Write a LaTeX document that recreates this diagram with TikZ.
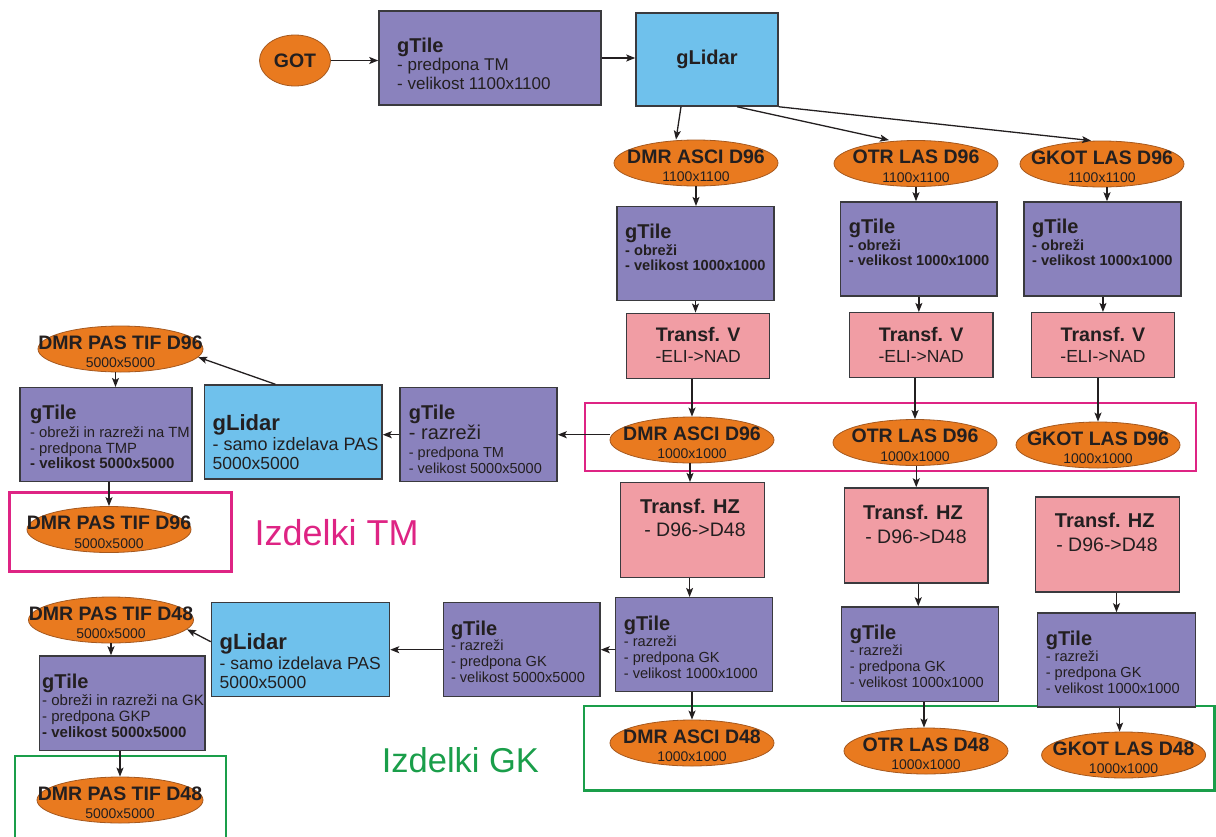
\documentclass[tikz,border=0pt]{standalone}
\usepackage{fontspec}
\setmainfont{Liberation Sans}
\usetikzlibrary{arrows.meta,fit,shapes.geometric}
\definecolor{txc}{HTML}{231F20}
\definecolor{pur}{RGB}{138,130,189}
\definecolor{blu}{RGB}{111,193,236}
\definecolor{pnk}{RGB}{241,157,164}
\definecolor{org}{RGB}{233,122,31}
\definecolor{orgd}{RGB}{165,88,30}
\definecolor{mag}{RGB}{222,36,132}
\definecolor{grn}{RGB}{26,158,74}
\definecolor{bd}{RGB}{58,58,62}
\newcommand\fs[1]{\fontsize{#1}{#1}\selectfont}
\newcommand\mkbox[6]{\node[#2,fit={(#3,#4)(#5,#6)}] (#1) {};}
\newcommand\mkov[6]{%
  \node[oval,minimum width=#4,minimum height=46] (#1) at (#2,#3) {};
  \node[tcen,font=\fs{19.5}\bfseries] (#1a) at (#2,#3) {#5};
  \node[tcen,font=\fs{14}] (#1b) at (#2,#3+18.5) {#6};}
\newcommand\tline[5]{\node[tl,font=#5] (#1) at (#2,#3) {#4};}
\newcommand\ctline[5]{\node[tcen,font=#5] (#1) at (#2,#3) {#4};}
\begin{document}
\begin{tikzpicture}[x=1pt,y=-1pt,
  pbox/.style={draw=bd,line width=1.5pt,fill=pur,inner sep=0pt},
  bbox/.style={draw=bd,line width=1.5pt,fill=blu,inner sep=0pt},
  kbox/.style={draw=bd,line width=1.5pt,fill=pnk,inner sep=0pt},
  oval/.style={ellipse,draw=orgd,line width=0.8pt,fill=org,inner sep=0pt},
  frame/.style={line width=2.8pt,inner sep=0pt},
  tl/.style={anchor=base west,inner sep=0pt,text=txc},
  tcen/.style={anchor=base,inner sep=0pt,text=txc},
  arr/.style={draw=txc,line width=1.3pt,-{Stealth[length=9pt,width=7pt,inset=2pt]}},
]
\useasboundingbox (0,0) rectangle (1216,836);
% frames
\node[frame,draw=mag,fit={(585,403)(1196,471)}] (fm1) {};
\node[frame,draw=mag,fit={(9.6,492.7)(231.5,571.7)}] (fm2) {};
\node[frame,draw=grn,fit={(584,706)(1214.5,790.7)}] (fg1) {};
\node[frame,draw=grn,fit={(15,756)(226,850)}] (fg2) {};
% top
\node[oval,minimum width=71,minimum height=51] (got) at (295,60.5) {};
\ctline{gott}{295}{67}{GOT}{\fs{19.5}\bfseries}
\mkbox{gt0}{pbox}{379}{11}{601}{105}
\tline{gt0a}{397}{52.3}{gTile}{\fs{20}\bfseries}
\tline{gt0b}{397}{70}{- predpona TM}{\fs{17}}
\tline{gt0c}{397}{89}{- velikost 1100x1100}{\fs{17}}
\mkbox{gl0}{bbox}{636}{13}{778}{106}
\ctline{gl0a}{707}{64.5}{gLidar}{\fs{20}\bfseries}
% row 2
\mkov{e1}{696}{163}{164}{DMR ASCI D96}{1100x1100}
\mkov{e2}{916}{163.5}{164}{OTR LAS D96}{1100x1100}
\mkov{e3}{1102}{164}{164}{GKOT LAS D96}{1100x1100}
% row 3
\mkbox{c1}{pbox}{617}{206.7}{774}{300.7}
\tline{c1a}{625}{238}{gTile}{\fs{20}\bfseries}
\tline{c1b}{625}{255}{- obreži}{\fs{14.6}\bfseries}
\tline{c1c}{625}{270}{- velikost 1000x1000}{\fs{14.6}\bfseries}
\mkbox{c2}{pbox}{840.7}{202}{997}{296}
\tline{c2a}{848.7}{233.3}{gTile}{\fs{20}\bfseries}
\tline{c2b}{848.7}{250.3}{- obreži}{\fs{14.6}\bfseries}
\tline{c2c}{848.7}{265.3}{- velikost 1000x1000}{\fs{14.6}\bfseries}
\mkbox{c3}{pbox}{1024}{202}{1181}{296}
\tline{c3a}{1032}{233.3}{gTile}{\fs{20}\bfseries}
\tline{c3b}{1032}{250.3}{- obreži}{\fs{14.6}\bfseries}
\tline{c3c}{1032}{265.3}{- velikost 1000x1000}{\fs{14.6}\bfseries}
% row 4
\mkbox{v1}{kbox}{626.7}{313.3}{769.7}{378.3}
\ctline{v1a}{698.2}{341.7}{Transf. V}{\fs{19.6}\bfseries}
\ctline{v1b}{698.2}{362.7}{-ELI->NAD}{\fs{17.5}}
\mkbox{v2}{kbox}{849.5}{312.7}{993}{377.3}
\ctline{v2a}{921.2}{341.1}{Transf. V}{\fs{19.6}\bfseries}
\ctline{v2b}{921.2}{362.1}{-ELI->NAD}{\fs{17.5}}
\mkbox{v3}{kbox}{1031.4}{312.7}{1174.5}{377.3}
\ctline{v3a}{1103}{341.1}{Transf. V}{\fs{19.6}\bfseries}
\ctline{v3b}{1103}{362.1}{-ELI->NAD}{\fs{17.5}}
% row 5
\mkov{f1}{692}{440}{164}{DMR ASCI D96}{1000x1000}
\mkov{f2}{915}{442.5}{164}{OTR LAS D96}{1000x1000}
\mkov{f3}{1098}{445}{164}{GKOT LAS D96}{1000x1000}
% row 6
\mkbox{hz1}{kbox}{620.6}{482.7}{764.6}{577.3}
\ctline{hz1a}{690}{513.2}{Transf. HZ}{\fs{20}\bfseries}
\ctline{hz1b}{695}{536.7}{- D96->D48}{\fs{19.5}}
\mkbox{hz2}{kbox}{844.5}{488}{988}{583}
\ctline{hz2a}{913}{519}{Transf. HZ}{\fs{20}\bfseries}
\ctline{hz2b}{916}{543}{- D96->D48}{\fs{19.5}}
\mkbox{hz3}{kbox}{1035.6}{497}{1179.6}{592}
\ctline{hz3a}{1104.8}{527.5}{Transf. HZ}{\fs{20}\bfseries}
\ctline{hz3b}{1107}{551}{- D96->D48}{\fs{19.5}}
% row 7
\mkbox{g1}{pbox}{615.7}{597.7}{772.7}{691.7}
\tline{g1a}{623.7}{630}{gTile}{\fs{20}\bfseries}
\tline{g1b}{623.7}{646}{- razreži}{\fs{14.6}}
\tline{g1c}{623.7}{662}{- predpona GK}{\fs{14.6}}
\tline{g1d}{623.7}{678}{- velikost 1000x1000}{\fs{14.6}}
\mkbox{g2}{pbox}{841.7}{607}{998.7}{701.7}
\tline{g2a}{849.7}{639.3}{gTile}{\fs{20}\bfseries}
\tline{g2b}{849.7}{655.3}{- razreži}{\fs{14.6}}
\tline{g2c}{849.7}{671.3}{- predpona GK}{\fs{14.6}}
\tline{g2d}{849.7}{687.3}{- velikost 1000x1000}{\fs{14.6}}
\mkbox{g3}{pbox}{1037.6}{613}{1195.4}{707}
\tline{g3a}{1045.6}{645.3}{gTile}{\fs{20}\bfseries}
\tline{g3b}{1045.6}{661.3}{- razreži}{\fs{14.6}}
\tline{g3c}{1045.6}{677.3}{- predpona GK}{\fs{14.6}}
\tline{g3d}{1045.6}{693.3}{- velikost 1000x1000}{\fs{14.6}}
% row 8
\mkov{h1}{692}{743}{164}{DMR ASCI D48}{1000x1000}
\mkov{h2}{926}{751}{164}{OTR LAS D48}{1000x1000}
\mkov{h3}{1123.6}{755}{164}{GKOT LAS D48}{1000x1000}
% TM branch
\mkbox{tmg}{pbox}{400}{387.7}{557}{481.7}
\tline{tmga}{408.7}{419}{gTile}{\fs{20}\bfseries}
\tline{tmgb}{408.7}{439}{- razreži}{\fs{20}}
\tline{tmgc}{408.7}{457}{- predpona TM}{\fs{14.5}}
\tline{tmgd}{408.7}{473}{- velikost 5000x5000}{\fs{14.5}}
\mkbox{tml}{bbox}{204.7}{385}{382}{479}
\tline{tmla}{212.5}{430}{gLidar}{\fs{22}\bfseries}
\tline{tmlb}{212.5}{450.5}{- samo izdelava PAS}{\fs{18}}
\tline{tmlc}{212.5}{469}{5000x5000}{\fs{17.5}}
\mkbox{tmt}{pbox}{20}{387.7}{192}{481.7}
\tline{tmta}{30}{419}{gTile}{\fs{20}\bfseries}
\tline{tmtb}{30}{437}{- obreži in razreži na TM}{\fs{14.8}}
\tline{tmtc}{30}{453}{- predpona TMP}{\fs{14.8}}
\tline{tmtd}{30}{468}{- velikost 5000x5000}{\fs{15}\bfseries}
\mkov{tme1}{120.5}{349}{165}{DMR PAS TIF D96}{5000x5000}
\mkov{tme2}{109}{529.5}{164}{DMR PAS TIF D96}{5000x5000}
\node[anchor=base west,inner sep=0pt,text=mag,font=\fs{36}] (itm) at (254.5,545) {Izdelki TM};
% GK branch
\mkbox{gkg}{pbox}{443.7}{602.7}{600}{696.7}
\tline{gkga}{450.8}{635}{gTile}{\fs{20}\bfseries}
\tline{gkgb}{450.8}{650}{- razreži}{\fs{14.6}}
\tline{gkgc}{450.8}{666}{- predpona GK}{\fs{14.6}}
\tline{gkgd}{450.8}{682}{- velikost 5000x5000}{\fs{14.6}}
\mkbox{gkl}{bbox}{211.5}{602.7}{389.5}{696.7}
\tline{gkla}{219.5}{649}{gLidar}{\fs{22}\bfseries}
\tline{gklb}{219.5}{669}{- samo izdelava PAS}{\fs{17.5}}
\tline{gklc}{219.5}{688}{5000x5000}{\fs{17.5}}
\mkbox{gkt}{pbox}{39.5}{656}{204.8}{750.7}
\tline{gkta}{42}{688}{gTile}{\fs{20}\bfseries}
\tline{gktb}{42}{705}{- obreži in razreži na GK}{\fs{15}}
\tline{gktc}{42}{721}{- predpona GKP}{\fs{15}}
\tline{gktd}{42}{737}{- velikost 5000x5000}{\fs{15}\bfseries}
\mkov{gke1}{111}{620}{165}{DMR PAS TIF D48}{5000x5000}
\mkov{gke2}{120}{800}{166}{DMR PAS TIF D48}{5000x5000}
\node[anchor=base west,inner sep=0pt,text=grn,font=\fs{34.5}] (igk) at (381.6,772) {Izdelki GK};
% connectors
\draw[arr] (got.east) -- (got.east -| gt0.west);
\draw[arr] (gt0.east) -- (gt0.east -| gl0.west);
\draw[arr] ([xshift=-26pt]gl0.south) -- ([xshift=-20pt]e1.north);
\draw[arr] ([xshift=30pt]gl0.south) -- ([xshift=-27pt]e2.north);
\draw[arr] (gl0.south east) -- ([xshift=-11pt]e3.north);
% column 1
\draw[arr] (e1.south) -- (e1.south |- c1.north);
\draw[arr] (c1.south) -- (c1.south |- v1.north);
\draw[arr] (f1.north |- v1.south) -- (f1.north);
\draw[arr] ([xshift=-2pt]f1.south) -- ([xshift=-2pt]f1.south |- hz1.north);
\draw[arr] ([xshift=-3pt]hz1.south) -- ([xshift=-3pt]hz1.south |- g1.north);
\draw[arr] (h1.north |- g1.south) -- (h1.north);
% column 2
\draw[arr] (e2.south) -- (e2.south |- c2.north);
\draw[arr] (c2.south) -- (c2.south |- v2.north);
\draw[arr] (f2.north |- v2.south) -- (f2.north);
\draw[arr] (hz2.north |- f2.south) -- (hz2.north);
\draw[arr] ([xshift=2pt]hz2.south) -- ([xshift=2pt]hz2.south |- g2.north);
\draw[arr] ([xshift=-2pt]h2.north |- g2.south) -- ([xshift=-2pt]h2.north);
% column 3
\draw[arr] ([xshift=5pt]e3.south) -- ([xshift=5pt]e3.south |- c3.north);
\draw[arr] (v3.north |- c3.south) -- (v3.north);
\draw[arr] (f3.north |- v3.south) -- (f3.north);
\draw[arr] (g3.north |- hz3.south) -- (g3.north);
\draw[arr] ([xshift=-4pt]h3.north |- g3.south) -- ([xshift=-4pt]h3.north);
% TM branch
\draw[arr] (tmg.east -| f1.west) -- (tmg.east);
\draw[arr] (tmg.west) -- (tmg.west -| tml.east);
\draw[arr] ([xshift=-18pt]tml.north) -- (tme1.-6);
\draw[arr] ([xshift=-5pt]tme1.south) -- ([xshift=-5pt]tme1.south |- tmt.north);
\draw[arr] (tme2.north |- tmt.south) -- (tme2.north);
% GK branch
\draw[arr] (gkg.east -| g1.west) -- (gkg.east);
\draw[arr] (gkg.west) -- (gkg.west -| gkl.east);
\draw[arr] ([yshift=8pt]gkl.west) -- (gke1.-7);
\draw[arr] (gke1.south) -- (gke1.south |- gkt.north);
\draw[arr] (gke2.north |- gkt.south) -- (gke2.north);
\end{tikzpicture}
\end{document}
